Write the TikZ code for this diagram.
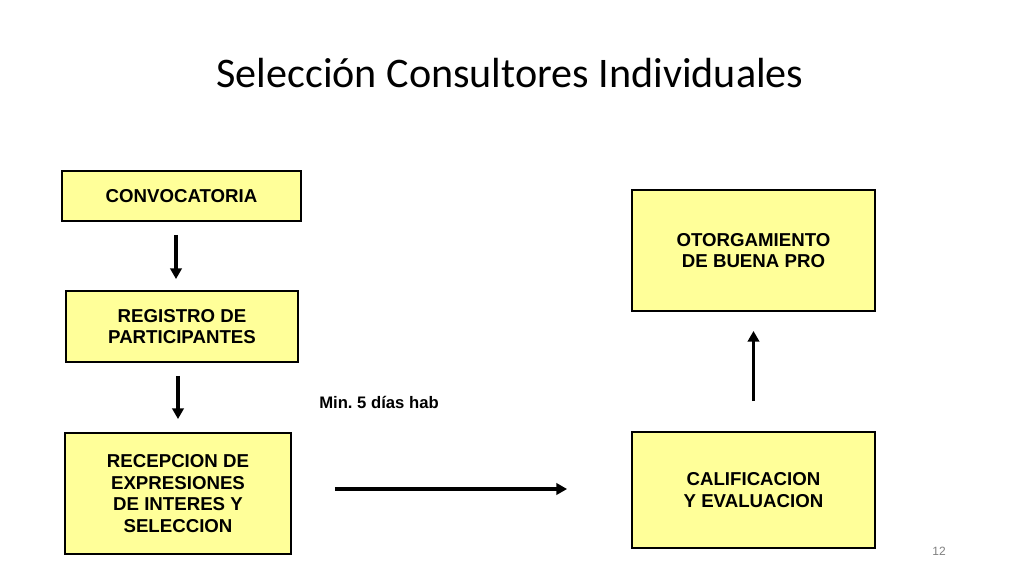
\documentclass[tikz,border=0pt]{standalone}
\usepackage{fontspec}
\setmainfont{Liberation Sans}
\newfontfamily\titlefont{Carlito}
\usetikzlibrary{arrows.meta,calc}
\definecolor{boxyellow}{RGB}{255,255,153}
\frenchspacing
\begin{document}
\begin{tikzpicture}[x=0.75pt,y=-0.75pt,
  stepbox/.style={draw=black,line width=1.4pt,fill=boxyellow,align=center,
    font=\fontsize{14}{16.3}\selectfont\bfseries,inner sep=0pt},
  arr/.style={line width=2.6pt,-{Triangle[length=8pt,width=8.5pt]}}]
\useasboundingbox[fill=white] (0,0) rectangle (1024,576);
\node[font=\titlefont\fontsize{31.6}{38}\selectfont,anchor=base] (title) at (510,87) {Selección Consultores Individuales};
\node[stepbox,minimum width=179.25pt,minimum height=37.5pt] (conv) at (181.5,196) {CONVOCATORIA};
\node[stepbox,minimum width=174pt,minimum height=53.25pt] (reg) at (182,326.5) {REGISTRO DE\\PARTICIPANTES};
\node[stepbox,minimum width=169.5pt,minimum height=90.75pt] (rec) at (178,493.5) {RECEPCION DE\\EXPRESIONES\\DE INTERES Y\\SELECCION};
\node[stepbox,minimum width=182.25pt,minimum height=90.75pt] (otor) at (753.5,250.5) {OTORGAMIENTO\\DE BUENA PRO};
\node[stepbox,minimum width=182.25pt,minimum height=87pt] (cal) at (753.5,490) {CALIFICACION\\Y EVALUACION};
\node[font=\fontsize{12.5}{15}\selectfont\bfseries,anchor=base west,inner sep=0pt] (min) at (319,408) {Min. 5 días hab};
\node[font=\fontsize{9}{11}\selectfont,text=gray,anchor=base east,inner sep=0pt] (pg) at (946,555) {12};
\draw[arr] ($(conv.south)+(-5.5,13)$) -- ($(reg.north)+(-6,-11)$);
\draw[arr] ($(reg.south)+(-4,13)$) -- ($(rec.north)+(0,-13)$);
\draw[arr] ($(rec.east)+(43,-4.5)$) -- ($(cal.west)+(-64,-1)$);
\draw[arr] ($(cal.north)+(0,-30)$) -- ($(otor.south)+(0,19)$);
\end{tikzpicture}
\end{document}
